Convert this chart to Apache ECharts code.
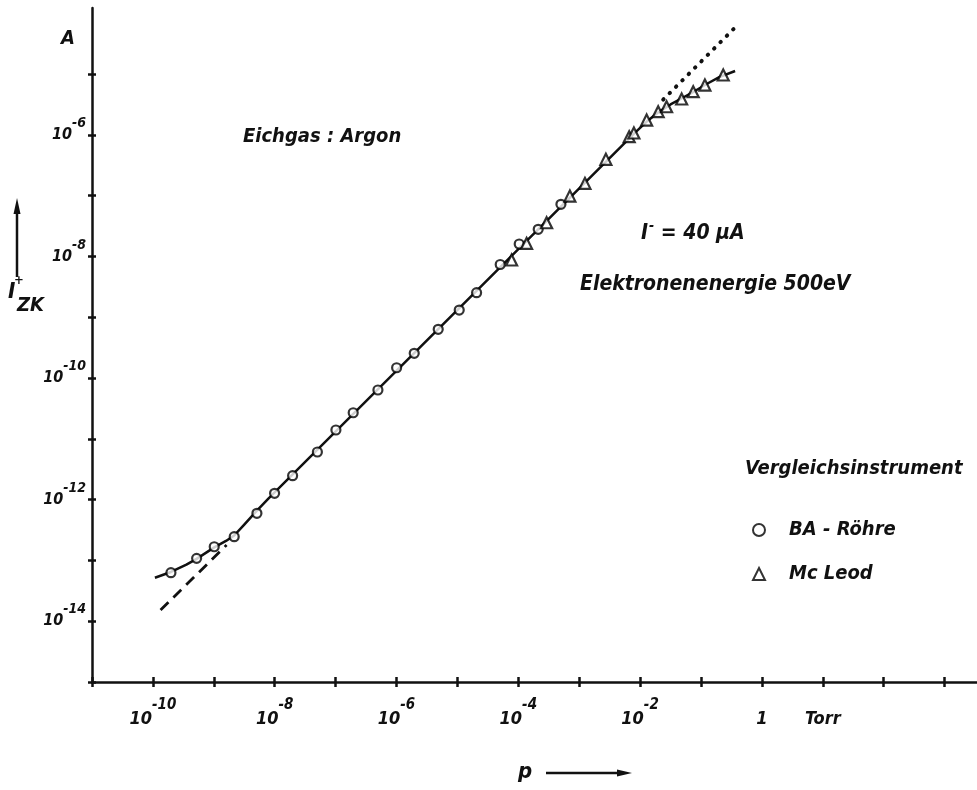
<!DOCTYPE html>
<html>
<head>
<meta charset="utf-8">
<script src="https://cdn.jsdelivr.net/npm/echarts@6/dist/echarts.min.js"></script>
<style>
html,body{margin:0;padding:0;background:#fff;}
#chart{width:977px;height:790px;}
</style>
</head>
<body>
<div id="chart"></div>
<script>
// ---- values (log10 of p in Torr, log10 of I in A) ----
const baLogP = [-9.704, -9.282, -8.993, -8.665, -8.292, -8.002, -7.706, -7.299, -6.995, -6.711, -6.305, -5.998, -5.709, -5.315, -4.970, -4.685, -4.297, -3.985, -3.673, -3.300];
const baLogI = [-13.202, -12.966, -12.775, -12.610, -12.225, -11.896, -11.607, -11.217, -10.855, -10.571, -10.197, -9.831, -9.594, -9.199, -8.882, -8.597, -8.133, -7.796, -7.554, -7.143];

const mcLogP = [-4.110, -3.864, -3.535, -3.153, -2.906, -2.562, -2.179, -2.102, -1.893, -1.703, -1.565, -1.318, -1.128, -0.936, -0.635];
const mcLogI = [-8.059, -7.785, -7.446, -7.007, -6.798, -6.403, -6.031, -5.970, -5.757, -5.620, -5.538, -5.411, -5.291, -5.181, -5.016];

const curveLogP = [-9.967, -9.704, -9.45, -9.282, -8.993, -8.80, -8.665, -8.50, -8.30, -8.10, -2.30, -2.10, -1.90, -1.70, -1.50, -1.30, -1.10, -0.90, -0.70, -0.44];
const curveLogI = [-13.285, -13.19, -13.07, -12.975, -12.785, -12.68, -12.59, -12.41, -12.19, -11.98, -6.18, -5.98, -5.79, -5.63, -5.50, -5.39, -5.28, -5.16, -5.05, -4.95];

const dashLogP = [-9.874, -8.790];
const dashLogI = [-13.816, -12.747];

const dotLogP = [-1.62, -0.389];
const dotLogI = [-5.42, -4.183];

// ---- axis ranges and tick labels (decades) ----
const xMinExp = -11, xTickMaxExp = 3, xAxisEndExp = 3.532;
const yMinExp = -15, yTickMaxExp = -5, yAxisEndExp = -3.914;
const xLabelExps = [-10, -8, -6, -4, -2];
const xOneExp = 0;            // labelled "1"
const xUnitExp = 1;           // labelled "Torr"
const xUnitText = 'Torr';
const yLabelExps = [-14, -12, -10, -8, -6];

const FONT = '"DejaVu Sans Condensed", "DejaVu Sans", sans-serif';
const INK = '#111';

function zip(a, b) { return a.map((v, i) => [v, b[i]]); }

function fmtX(v) {
  v = Math.round(v * 1000) / 1000;
  if (xLabelExps.indexOf(v) >= 0) return '{b|10}{e|' + v + '}';
  if (v === xOneExp) return '{b|1}';
  if (v === xUnitExp) return '{b|' + xUnitText + '}';
  return '';
}
function fmtY(v) {
  v = Math.round(v * 1000) / 1000;
  if (yLabelExps.indexOf(v) >= 0) return '{b|10}{e|' + v + '}';
  return '';
}

const baseTxt = { fontFamily: FONT, fontStyle: 'italic', fontWeight: 'bold', color: INK };

const chart = echarts.init(document.getElementById('chart'), null, { renderer: 'canvas' });

const hiddenLine = { show: false, onZero: false };
const tickStyle = { color: INK, width: 2.5 };

chart.setOption({
  animation: false,
  backgroundColor: '#fff',
  grid: [
    { left: 92, right: 0, top: 8, bottom: 108, containLabel: false, outerBoundsMode: 'none' },
    { left: 92, right: 32.4, top: 74, bottom: 108, containLabel: false, outerBoundsMode: 'none' }
  ],
  xAxis: [
    { gridIndex: 0, type: 'value', position: 'bottom', min: xMinExp, max: xAxisEndExp,
      axisLine: { show: true, onZero: false, lineStyle: { color: INK, width: 2.5 } },
      axisTick: { show: false }, axisLabel: { show: false }, splitLine: { show: false } },
    { gridIndex: 1, type: 'value', position: 'bottom', min: xMinExp, max: xTickMaxExp, interval: 1,
      axisLine: hiddenLine,
      axisTick: { show: true, inside: false, length: 5, lineStyle: tickStyle },
      axisLabel: { show: true, margin: 16, formatter: fmtX,
        rich: {
          b: Object.assign({ fontSize: 18, lineHeight: 43 }, baseTxt),
          e: Object.assign({ fontSize: 15, lineHeight: 15, padding: [0, 0, 28, 0] }, baseTxt)
        } },
      splitLine: { show: false } },
    { gridIndex: 1, type: 'value', position: 'bottom', min: xMinExp, max: xTickMaxExp, interval: 1,
      axisLine: hiddenLine,
      axisTick: { show: true, inside: true, length: 5, lineStyle: tickStyle },
      axisLabel: { show: false }, splitLine: { show: false } }
  ],
  yAxis: [
    { gridIndex: 0, type: 'value', position: 'left', min: yMinExp, max: yAxisEndExp,
      name: 'A', nameLocation: 'end', nameGap: -41,
      nameTextStyle: Object.assign({ fontSize: 20, align: 'right', padding: [0, 17, 0, 0] }, baseTxt),
      axisLine: { show: true, onZero: false, lineStyle: { color: INK, width: 2.5 } },
      axisTick: { show: false }, axisLabel: { show: false }, splitLine: { show: false } },
    { gridIndex: 1, type: 'value', position: 'left', min: yMinExp, max: yTickMaxExp, interval: 1,
      axisLine: hiddenLine,
      axisTick: { show: true, inside: false, length: 4, lineStyle: tickStyle },
      axisLabel: { show: true, margin: 6, formatter: fmtY,
        rich: {
          b: Object.assign({ fontSize: 16, lineHeight: 37 }, baseTxt),
          e: Object.assign({ fontSize: 14, lineHeight: 14, padding: [0, 0, 23, 0] }, baseTxt)
        } },
      splitLine: { show: false } },
    { gridIndex: 1, type: 'value', position: 'left', min: yMinExp, max: yTickMaxExp, interval: 1,
      axisLine: hiddenLine,
      axisTick: { show: true, inside: true, length: 4, lineStyle: tickStyle },
      axisLabel: { show: false }, splitLine: { show: false } }
  ],
  legend: {
    data: ['BA - Röhre', 'Mc Leod'],
    orient: 'vertical', left: 747, top: 515,
    itemWidth: 12, itemHeight: 12, itemGap: 24,
    selectedMode: false,
    textStyle: Object.assign({ fontSize: 20, padding: [0, 0, 0, 19] }, baseTxt)
  },
  graphic: [
    { type: 'text', x: 243, y: 137, style: { text: 'Eichgas : Argon', fontSize: 20, align: 'left', verticalAlign: 'middle', fill: INK, fontFamily: FONT, fontStyle: 'italic', fontWeight: 'bold' } },
    { type: 'text', x: 641, y: 234, style: {
        text: '{i|I}{s|-}{t| = 40 μA}', align: 'left', verticalAlign: 'middle', fill: INK,
        rich: {
          i: { fontFamily: FONT, fontStyle: 'italic', fontWeight: 'bold', fontSize: 21, fill: INK },
          s: { fontFamily: FONT, fontStyle: 'italic', fontWeight: 'bold', fontSize: 14, fill: INK, padding: [0, 0, 16, 1] },
          t: { fontFamily: FONT, fontStyle: 'italic', fontWeight: 'bold', fontSize: 21, fill: INK }
        } } },
    { type: 'text', x: 580, y: 285, style: { text: 'Elektronenenergie 500eV', fontSize: 21, align: 'left', verticalAlign: 'middle', fill: INK, fontFamily: FONT, fontStyle: 'italic', fontWeight: 'bold' } },
    { type: 'text', x: 745, y: 469, style: { text: 'Vergleichsinstrument', fontSize: 20, align: 'left', verticalAlign: 'middle', fill: INK, fontFamily: FONT, fontStyle: 'italic', fontWeight: 'bold' } },
    // y-axis title with arrow
    { type: 'line', shape: { x1: 17, y1: 277, x2: 17, y2: 210 }, style: { stroke: INK, lineWidth: 2.5 } },
    { type: 'polygon', shape: { points: [[17, 198], [13.5, 214], [20.5, 214]] }, style: { fill: INK } },
    { type: 'text', x: 8, y: 292, style: { text: 'I', fontSize: 22, align: 'left', verticalAlign: 'middle', fill: INK, fontFamily: FONT, fontStyle: 'italic', fontWeight: 'bold' } },
    { type: 'text', x: 19, y: 281, style: { text: '+', fontSize: 13, align: 'center', verticalAlign: 'middle', fill: INK, fontFamily: FONT, fontWeight: 'bold' } },
    { type: 'text', x: 17, y: 306, style: { text: 'ZK', fontSize: 20, align: 'left', verticalAlign: 'middle', fill: INK, fontFamily: FONT, fontStyle: 'italic', fontWeight: 'bold' } },
    // x-axis title with arrow
    { type: 'text', x: 525, y: 772, style: { text: 'p', fontSize: 22, align: 'center', verticalAlign: 'middle', fill: INK, fontFamily: FONT, fontStyle: 'italic', fontWeight: 'bold' } },
    { type: 'line', shape: { x1: 546, y1: 773, x2: 620, y2: 773 }, style: { stroke: INK, lineWidth: 2.5 } },
    { type: 'polygon', shape: { points: [[632, 773], [617, 769.5], [617, 776.5]] }, style: { fill: INK } }
  ],
  series: [
    { type: 'line', name: 'Kurve', xAxisIndex: 0, yAxisIndex: 0, data: zip(curveLogP, curveLogI),
      showSymbol: false, smooth: false, silent: true,
      lineStyle: { color: INK, width: 2.5, join: 'round' }, z: 2 },
    { type: 'line', name: 'Extrapolation unten', xAxisIndex: 0, yAxisIndex: 0, data: zip(dashLogP, dashLogI),
      showSymbol: false, silent: true,
      lineStyle: { color: INK, width: 2.8, type: [11, 7] }, z: 2 },
    { type: 'line', name: 'Extrapolation oben', xAxisIndex: 0, yAxisIndex: 0, data: zip(dotLogP, dotLogI),
      showSymbol: false, silent: true,
      lineStyle: { color: INK, width: 4, type: [0.5, 8.5], cap: 'round' }, z: 2 },
    { type: 'scatter', name: 'BA - Röhre', xAxisIndex: 0, yAxisIndex: 0, data: zip(baLogP, baLogI),
      symbol: 'circle', symbolSize: 9, silent: true,
      itemStyle: { color: '#fff', borderColor: '#000', borderWidth: 2.2 }, z: 4 },
    { type: 'scatter', name: 'Mc Leod', xAxisIndex: 0, yAxisIndex: 0, data: zip(mcLogP, mcLogI),
      symbol: 'triangle', symbolSize: 11, silent: true,
      itemStyle: { color: '#fff', borderColor: '#000', borderWidth: 2.2 }, z: 4 }
  ]
});
</script>
</body>
</html>
